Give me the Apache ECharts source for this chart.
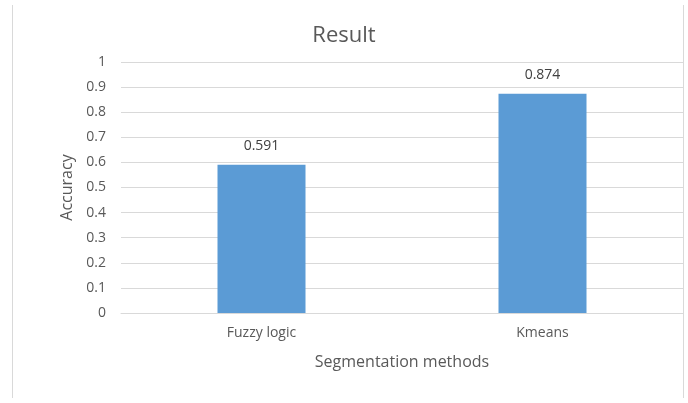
<!DOCTYPE html>
<html><head><meta charset="utf-8">
<script src="https://cdn.jsdelivr.net/npm/echarts@6/dist/echarts.min.js"></script>
<style>html,body{margin:0;padding:0;background:#fff}#c{width:688px;height:403px}</style>
</head><body><div id="c"></div>
<script>
var categories = ['Fuzzy logic', 'Kmeans'];
var accuracy = [0.591, 0.874];
var yTicks = {min: 0, max: 1, interval: 0.1};

var chart = echarts.init(document.getElementById('c'));
var font = '"Open Sans", sans-serif';
chart.setOption({
  animation: false,
  backgroundColor: '#fff',
  title: {text: 'Result', left: 'center', top: 20, textStyle: {fontFamily: font, fontWeight: 'normal', fontSize: 22, color: '#595959'}},
  graphic: [
    {type: 'line', shape: {x1: 12.5, y1: 5, x2: 12.5, y2: 398}, style: {stroke: '#d9d9d9', lineWidth: 1}},
    {type: 'line', shape: {x1: 683.5, y1: 5, x2: 683.5, y2: 398}, style: {stroke: '#d9d9d9', lineWidth: 1}}
  ],
  grid: {left: 121, right: 5, top: 62, bottom: 90},
  xAxis: {
    type: 'category', data: categories,
    name: 'Segmentation methods', nameLocation: 'middle', nameGap: 41,
    nameTextStyle: {fontFamily: font, fontSize: 16, color: '#595959'},
    axisLine: {lineStyle: {color: '#d9d9d9'}},
    axisTick: {show: false},
    axisLabel: {fontFamily: font, fontSize: 14, color: '#595959', margin: 13}
  },
  yAxis: {
    type: 'value', min: yTicks.min, max: yTicks.max, interval: yTicks.interval,
    name: 'Accuracy', nameLocation: 'middle', nameGap: 46, nameRotate: 90,
    nameTextStyle: {fontFamily: font, fontSize: 16, color: '#595959'},
    axisLine: {show: false}, axisTick: {show: false},
    axisLabel: {fontFamily: font, fontSize: 14, color: '#595959', margin: 15},
    splitLine: {lineStyle: {color: '#d9d9d9'}}
  },
  series: [{
    type: 'bar', data: accuracy, barWidth: 88,
    itemStyle: {color: '#5b9bd5'},
    label: {show: true, position: 'top', distance: 12, fontFamily: font, fontSize: 14, color: '#404040'}
  }]
});
</script></body></html>
